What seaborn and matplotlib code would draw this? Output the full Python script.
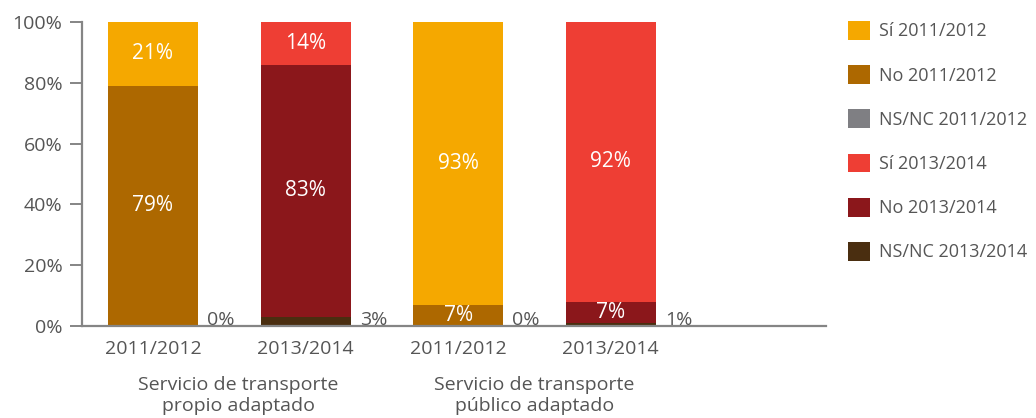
import matplotlib
matplotlib.use("Agg")
import matplotlib.pyplot as plt
from matplotlib.patches import Patch
from matplotlib.transforms import blended_transform_factory, offset_copy
import pandas as pd
import seaborn as sns

# --- data -------------------------------------------------------------
bar_ids = ["propio 2011/2012", "propio 2013/2014", "público 2011/2012", "público 2013/2014"]
periods = ["2011/2012", "2013/2014", "2011/2012", "2013/2014"]
groups = ["Servicio de transporte\npropio adaptado", "Servicio de transporte\npúblico adaptado"]
si = [21, 14, 93, 92]
no = [79, 83, 7, 7]
nsnc = [0, 3, 0, 1]

legend_labels = ["Sí 2011/2012", "No 2011/2012", "NS/NC 2011/2012",
                 "Sí 2013/2014", "No 2013/2014", "NS/NC 2013/2014"]
colors = {
    ("Sí", "2011/2012"): "#F5A800",
    ("No", "2011/2012"): "#AD6800",
    ("NS/NC", "2011/2012"): "#7F7F83",
    ("Sí", "2013/2014"): "#EE3E34",
    ("No", "2013/2014"): "#8B171B",
    ("NS/NC", "2013/2014"): "#4A2E10",
}

# --- style ------------------------------------------------------------
sns.set_theme(style="white")
plt.rcParams["font.family"] = ["Open Sans", "DejaVu Sans"]
text_color = "#555555"
axis_color = "#858585"

fig = plt.figure(figsize=(10.36, 4.18), dpi=100)
ax = fig.add_axes([82 / 1036, 92 / 418, (826 - 82) / 1036, 304 / 418])

df = pd.DataFrame({"bar": bar_ids, "period": periods,
                   "NS/NC": nsnc, "No": no, "Sí": si})
df["b_no"] = df["NS/NC"]
df["b_si"] = df["NS/NC"] + df["No"]

bar_width = 0.59
segments = [("NS/NC", None), ("No", "b_no"), ("Sí", "b_si")]
for seg, base_col in segments:
    for period in ["2011/2012", "2013/2014"]:
        sub = df[df["period"] == period]
        bottoms = [0] * len(sub) if base_col is None else sub[base_col].tolist()
        sns.barplot(data=sub, x="bar", y=seg, order=bar_ids,
                    color=colors[(seg, period)], saturation=1,
                    width=bar_width, errorbar=None, bottom=bottoms,
                    linewidth=0, ax=ax)

# value labels inside the stacked segments
for i, row in df.iterrows():
    for seg, base_col in [("No", "b_no"), ("Sí", "b_si")]:
        v = row[seg]
        if v > 0:
            base = row[base_col]
            ax.text(i, base + v / 2, f"{v}%", ha="center", va="center",
                    color="white", fontsize=15)
    # NS/NC share shown beside the bar, on the baseline
    tr = offset_copy(ax.transData, fig=fig, x=9, y=1, units="dots")
    ax.text(i + bar_width / 2, 0, f"{row['NS/NC']}%", ha="left", va="baseline",
            color=text_color, fontsize=14, transform=tr)

# axes, ticks and spines
ax.set_xlim(-0.465, 4.41)
ax.set_ylim(0, 100)
ax.set_yticks(range(0, 101, 20))
ax.set_yticklabels([f"{t}%" for t in range(0, 101, 20)])
ax.set_xticks(range(len(periods)))
ax.set_xticklabels(periods)
ax.set_xlabel("")
ax.set_ylabel("")
for side in ["top", "right"]:
    ax.spines[side].set_visible(False)
for side in ["left", "bottom"]:
    ax.spines[side].set_color(axis_color)
    ax.spines[side].set_linewidth(1.6)
ax.tick_params(axis="y", length=9, width=1.4, color=axis_color, direction="out",
               pad=5, labelsize=14, labelcolor=text_color, left=True)
ax.tick_params(axis="x", length=0, pad=10, labelsize=14, labelcolor=text_color)

# group captions below the period labels
blend = blended_transform_factory(ax.transData, ax.transAxes)
ax.text(0.56, -0.228, groups[0], ha="center", va="center", fontsize=14,
        color=text_color, linespacing=1.25, transform=blend)
ax.text(2.5, -0.228, groups[1], ha="center", va="center", fontsize=14,
        color=text_color, linespacing=1.25, transform=blend)

# legend
handles = [Patch(facecolor=colors[(lab.split(" ")[0], lab.split(" ")[1])], edgecolor="none")
           for lab in legend_labels]
fig.legend(handles, legend_labels, loc="upper left", bbox_to_anchor=(848 / 1036, 1 - 21 / 418),
           frameon=False, fontsize=13, labelcolor=text_color, borderpad=0,
           handlelength=1.22, handleheight=1.22, handletextpad=0.5,
           labelspacing=1.37, borderaxespad=0)

fig.savefig("out.png", dpi=100)
